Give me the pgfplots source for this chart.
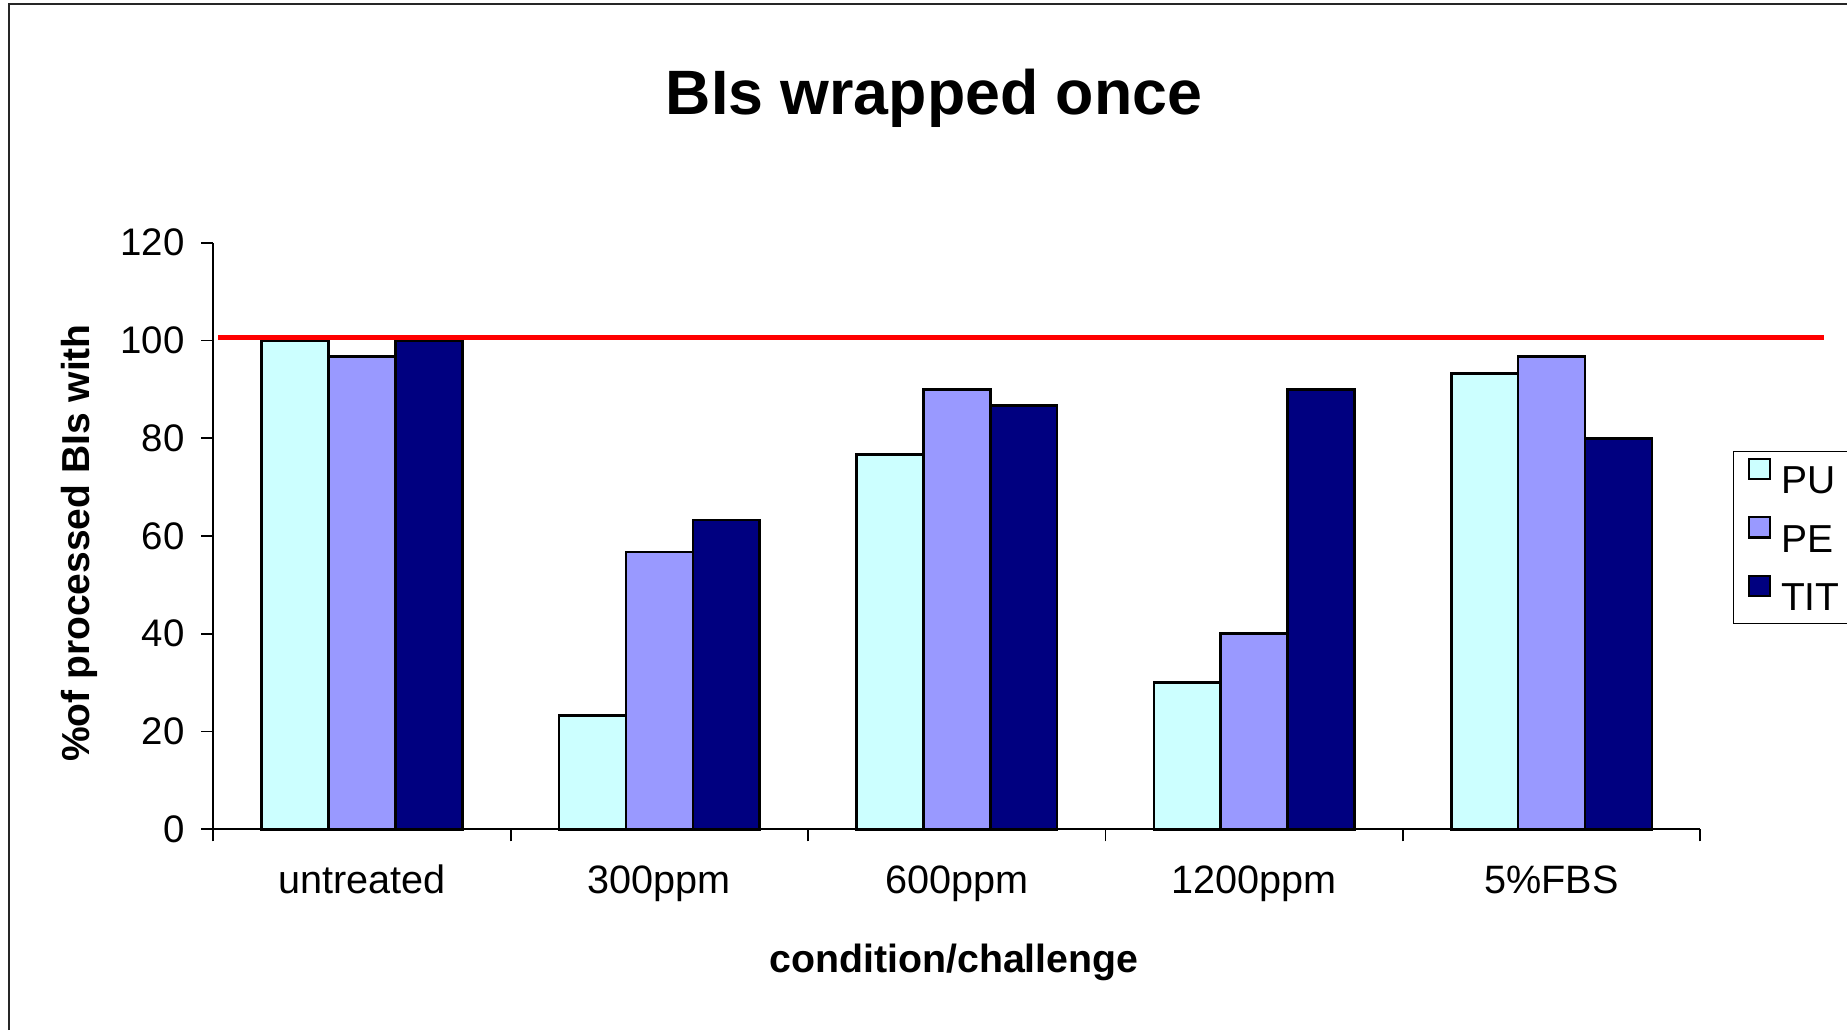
\documentclass[border=0pt]{standalone}
\usepackage{fontspec}
\setmainfont{Liberation Sans}
\usepackage{pgfplots}
\pgfplotsset{compat=1.18}
\definecolor{pucol}{HTML}{CCFFFF}
\definecolor{pecol}{HTML}{9999FF}
\definecolor{titcol}{HTML}{000080}
\begin{document}
\begin{tikzpicture}
\path[use as bounding box] (0pt,0pt) rectangle (923.5pt,515pt);
\draw[line width=1pt, black!85] (4.65pt,0pt) -- (4.65pt,512.85pt) -- (923.5pt,512.85pt);
\begin{axis}[
  at={(106.65pt,100.35pt)}, anchor=south west,
  scale only axis, width=743.5pt, height=293.3pt,
  xmin=-0.5, xmax=4.5, ymin=0, ymax=120,
  clip=false,
  axis lines=left,
  axis line style={-, line width=0.9pt, black},
  every tick/.style={black, line width=0.9pt},
  tick align=outside,
  major tick length=6pt, minor tick length=6pt,
  ytick={0,20,...,120},
  xtick={0,1,2,3,4},
  xticklabels={untreated,300ppm,600ppm,1200ppm,5\%FBS},
  major x tick style={draw=none},
  minor xtick={-0.5,0.5,...,4.5},
  /pgf/number format/assume math mode=true,
  yticklabel style={anchor=east, xshift=-4.9pt, font=\fontsize{19.2pt}{23pt}\selectfont},
  xticklabel style={anchor=base, yshift=-26pt, font=\fontsize{19.8pt}{23pt}\selectfont},
  title={BIs wrapped once},
  title style={at={(0.4847,1.1976)}, anchor=base, font=\bfseries\fontsize{31.35pt}{36pt}\selectfont},
  xlabel={condition/challenge},
  xlabel style={at={(0.4981,-0.2433)}, anchor=base, font=\bfseries\fontsize{19.65pt}{23pt}\selectfont},
  ylabel={\%of processed BIs with},
  ylabel style={at={(-0.0833,0.488)}, anchor=base, font=\bfseries\fontsize{19.5pt}{23pt}\selectfont},
  legend style={at={(1.0222,0.6449)}, anchor=north west, draw=black, line width=0.5pt,
    font=\fontsize{19.5pt}{23pt}\selectfont, row sep=7.6pt, inner xsep=7pt, inner ysep=3pt},
  legend cell align=left,
  legend image code/.code={\draw[#1, line width=1.2pt] (0pt,1.5pt) rectangle (10.6pt,11.6pt);
    \path[draw=none, fill=none] (0pt,0pt) -- (14pt,0pt);},
]
\addplot[ybar, bar width=0.225, bar shift=-0.225, fill=pucol, draw=black, line width=1.3pt]
  coordinates {(0,100) (1,23.3) (2,76.7) (3,30) (4,93.3)};
\addlegendentry{PU}
\addplot[ybar, bar width=0.225, bar shift=0, fill=pecol, draw=black, line width=1.3pt]
  coordinates {(0,96.7) (1,56.7) (2,90) (3,40) (4,96.7)};
\addlegendentry{PE}
\addplot[ybar, bar width=0.225, bar shift=0.225, fill=titcol, draw=black, line width=1.3pt]
  coordinates {(0,100) (1,63.3) (2,86.7) (3,90) (4,80)};
\addlegendentry{TIT}
\addplot[red, line width=2.5pt, forget plot] coordinates {(-0.483,100.6) (4.916,100.6)};
\end{axis}
\end{tikzpicture}
\end{document}
